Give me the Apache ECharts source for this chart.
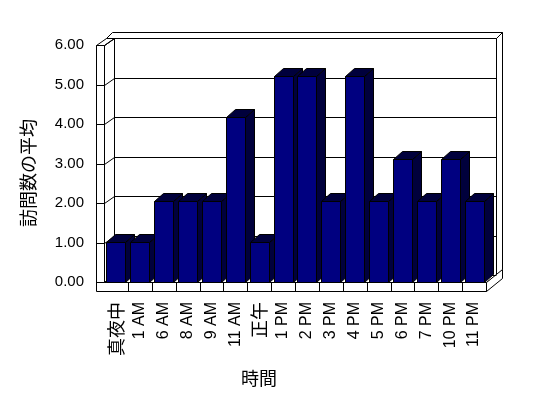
<!DOCTYPE html>
<html>
<head>
<meta charset="utf-8">
<script src="https://cdn.jsdelivr.net/npm/echarts@6/dist/echarts.min.js"></script>
<style>
  html, body { margin: 0; padding: 0; background: #fff; }
  #chart { width: 548px; height: 398px; }
</style>
</head>
<body>
<div id="chart"></div>
<script>
// chart data
const categories = ['真夜中', '1 AM', '6 AM', '8 AM', '9 AM', '11 AM', '正午', '1 PM', '2 PM', '3 PM', '4 PM', '5 PM', '6 PM', '7 PM', '10 PM', '11 PM'];
const visits = [1, 1, 2, 2, 2, 4.1, 1, 5.12, 5.12, 2, 5.12, 2, 3.05, 2, 3.05, 2];
const yTicks = [0, 1, 2, 3, 4, 5, 6];
const yTitle = '訪問数の平均';
const xTitle = '時間';

// 3D look
const DX = 10, DY = -7;      // plot depth (front plane -> back wall)
const SW = 8;                // left wall thickness
const TX = 6, TY = -6;       // back wall thickness
const FH = 9;                // floor thickness
const BDX = 9, BDY = -8;     // bar depth

// shaded colour for bar top and side (dithered navy/black in the original)
const shade = '#00003c';

const snap = v => Math.round(v) + 0.5;
const line = { stroke: '#000', lineWidth: 1, fill: null };
const face = { stroke: '#000', lineWidth: 1, fill: '#fff' };

function poly(points, style) {
  return { type: 'polygon', shape: { points: points }, style: style };
}
function seg(x1, y1, x2, y2) {
  return { type: 'line', shape: { x1: x1, y1: y1, x2: x2, y2: y2 }, style: line };
}

// walls, floor, gridlines
function renderFrame(params, api) {
  const cs = params.coordSys;
  const fl = snap(cs.x), fr = snap(cs.x + cs.width);
  const ft = snap(cs.y), fb = snap(cs.y + cs.height);
  const ol = fl - SW, fbb = fb + FH;
  const bl = fl + DX, br = fr + DX, bt = ft + DY, bb = fb + DY;
  const ox = br + TX, oy = bt + TY;
  const kids = [];

  kids.push(poly([[bl, bt], [br, bt], [br, bb], [bl, bb]], face));
  kids.push(poly([[ol + DX, bt], [br, bt], [ox, oy], [ol + DX + TX, oy]], face));
  kids.push(poly([[br, bt], [ox, oy], [ox, fb + DY + TY], [br, bb]], face));
  kids.push(poly([[fl, ft], [bl, bt], [bl, bb], [fl, fb]], face));
  kids.push(poly([[ol, ft], [fl, ft], [bl, bt], [ol + DX, bt]], face));
  kids.push(poly([[fl, fb], [fr, fb], [br, bb], [bl, bb]], face));
  kids.push(poly([[fr, fb], [fr, fbb], [ox, fbb + DY + TY], [ox, fb + DY + TY]], face));
  kids.push(poly([[ol, ft], [fl, ft], [fl, fb], [fr, fb], [fr, fbb], [ol, fbb]], face));

  yTicks.forEach(v => {
    const y = snap(api.coord([0, v])[1]);
    kids.push(seg(bl, y + DY, br, y + DY));
    kids.push(seg(fl, y, bl, y + DY));
    kids.push(seg(ol, y, fl, y));
  });

  const band = api.size([1, 0])[0];
  for (let k = 1; k < categories.length; k++) {
    const x = snap(api.coord([k, 0])[0] - band / 2);
    kids.push(seg(x, fb, x, fbb));
  }
  return { type: 'group', children: kids };
}

// one 3D column per category
function renderBar(params, api) {
  const i = api.value(0);
  const base = api.coord([i, 0]);
  const top = api.coord([i, api.value(1)]);
  const w = Math.round(api.size([1, 0])[0] * 0.8);
  const x0 = snap(base[0] - w / 2), x1 = x0 + w;
  const yb = snap(base[1]), yt = snap(top[1]);
  const edge = { stroke: '#000', lineWidth: 1 };
  return {
    type: 'group',
    children: [
      poly([[x1, yt], [x1 + BDX, yt + BDY], [x1 + BDX, yb + BDY], [x1, yb]], Object.assign({ fill: shade }, edge)),
      poly([[x0, yt], [x1, yt], [x1 + BDX, yt + BDY], [x0 + BDX, yt + BDY]], Object.assign({ fill: shade }, edge)),
      { type: 'rect', shape: { x: x0, y: yt, width: w, height: yb - yt }, style: Object.assign({ fill: '#000080' }, edge) }
    ]
  };
}

const chart = echarts.init(document.getElementById('chart'), null, { renderer: 'canvas' });

chart.setOption({
  animation: false,
  backgroundColor: '#fff',
  grid: { left: 104, right: 62, top: 45, bottom: 116 },
  xAxis: {
    type: 'category',
    data: categories,
    axisLine: { show: false },
    axisTick: { show: false },
    axisLabel: {
      rotate: 90,
      margin: 20,
      interval: 0,
      color: '#000',
      fontFamily: 'Liberation Sans',
      fontSize: 16,
      formatter: v => /[^\x00-\x7f]/.test(v) ? '{j|' + v + '}' : v,
      rich: { j: { fontFamily: 'Noto Sans CJK JP', fontSize: 18, color: '#000' } }
    }
  },
  yAxis: [
    {
      type: 'value',
      min: 0,
      max: 6,
      interval: 1,
      axisLine: { show: false },
      axisTick: { show: false },
      splitLine: { show: false },
      axisLabel: {
        margin: 20,
        color: '#000',
        fontFamily: 'Liberation Sans',
        fontSize: 15,
        formatter: v => v.toFixed(2)
      }
    },
    {
      // scale for the columns, which stand a little behind the front plane
      type: 'value',
      min: 0,
      max: 5.88,
      show: false
    }
  ],
  series: [
    {
      type: 'custom',
      silent: true,
      z: 1,
      data: [[0, 0]],
      renderItem: renderFrame
    },
    {
      type: 'custom',
      silent: true,
      z: 2,
      yAxisIndex: 1,
      encode: { x: 0, y: 1 },
      data: visits.map((v, i) => [i, v]),
      renderItem: renderBar
    }
  ],
  graphic: [
    {
      type: 'text',
      x: 28,
      y: 173,
      rotation: Math.PI / 2,
      style: {
        text: yTitle,
        font: '18px "Noto Sans CJK JP"',
        fill: '#000',
        align: 'center',
        verticalAlign: 'middle',
        textAlign: 'center',
        textVerticalAlign: 'middle'
      }
    },
    {
      type: 'text',
      x: 259,
      y: 378,
      style: {
        text: xTitle,
        font: '18px "Noto Sans CJK JP"',
        fill: '#000',
        align: 'center',
        verticalAlign: 'middle',
        textAlign: 'center',
        textVerticalAlign: 'middle'
      }
    }
  ]
});
</script>
</body>
</html>
